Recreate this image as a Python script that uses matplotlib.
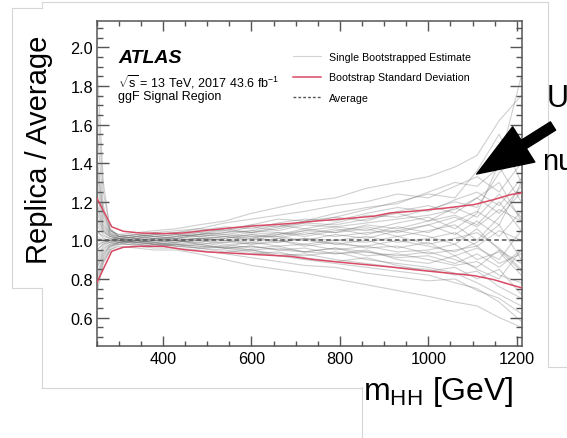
import matplotlib
matplotlib.use("Agg")
import matplotlib.pyplot as plt
from matplotlib.lines import Line2D
from matplotlib.ticker import MultipleLocator

plt.rcParams["font.family"] = ["Liberation Sans", "DejaVu Sans"]
plt.rcParams["mathtext.fontset"] = "custom"
plt.rcParams["mathtext.rm"] = "Liberation Sans"
plt.rcParams["mathtext.it"] = "Liberation Sans:italic"
plt.rcParams["mathtext.bf"] = "Liberation Sans:bold"

# ── data ─────────────────────────────────────────────────────────────
m_hh = [250, 265, 280, 300, 340, 380, 430, 480, 540, 600,
        660, 720, 790, 860, 930, 1000, 1060, 1110, 1160, 1210]

replicas = [
    [1.45, 1.15, 1.05, 1.03, 1.04, 1.05, 1.06, 1.08, 1.10, 1.14, 1.17, 1.20, 1.22, 1.27, 1.30, 1.33, 1.38, 1.44, 1.62, 1.75],
    [0.78, 0.90, 0.95, 0.97, 0.96, 0.95, 0.95, 0.93, 0.90, 0.87, 0.85, 0.83, 0.80, 0.77, 0.74, 0.71, 0.68, 0.66, 0.60, 0.55],
    [1.10, 1.04, 1.02, 1.01, 1.00, 1.01, 1.02, 1.03, 1.06, 1.08, 1.07, 1.10, 1.12, 1.10, 1.15, 1.18, 1.14, 1.22, 1.30, 1.10],
    [0.92, 0.97, 0.99, 1.00, 0.99, 0.98, 0.99, 1.00, 0.98, 0.96, 0.97, 0.94, 0.93, 0.95, 0.90, 0.88, 0.92, 0.85, 0.80, 0.95],
    [1.25, 1.08, 1.04, 1.02, 1.03, 1.02, 1.01, 1.03, 1.04, 1.05, 1.08, 1.06, 1.09, 1.13, 1.12, 1.16, 1.20, 1.17, 1.35, 1.45],
    [0.85, 0.93, 0.97, 0.98, 0.98, 0.99, 0.98, 0.97, 0.96, 0.94, 0.92, 0.93, 0.90, 0.88, 0.86, 0.85, 0.82, 0.84, 0.76, 0.70],
    [1.95, 1.30, 1.06, 1.02, 1.01, 1.00, 1.00, 1.01, 1.02, 1.00, 1.03, 1.05, 1.04, 1.06, 1.02, 1.05, 1.08, 1.00, 1.12, 1.25],
    [0.72, 0.88, 0.95, 0.98, 1.00, 1.01, 1.00, 0.99, 1.01, 1.03, 1.02, 1.00, 1.03, 1.01, 1.05, 1.02, 0.98, 1.06, 0.95, 0.88],
    [1.05, 1.02, 1.01, 1.00, 1.02, 1.04, 1.05, 1.06, 1.09, 1.11, 1.13, 1.15, 1.18, 1.20, 1.24, 1.22, 1.28, 1.33, 1.25, 1.40],
    [0.98, 0.99, 1.00, 0.99, 0.97, 0.96, 0.96, 0.95, 0.93, 0.91, 0.89, 0.87, 0.86, 0.83, 0.81, 0.79, 0.80, 0.74, 0.70, 0.62],
    [1.35, 1.12, 1.04, 1.01, 0.99, 0.98, 0.99, 1.01, 1.00, 0.98, 0.99, 1.01, 0.98, 0.97, 1.00, 0.97, 0.94, 0.99, 1.08, 0.90],
    [0.80, 0.91, 0.96, 0.99, 1.01, 1.03, 1.04, 1.05, 1.07, 1.06, 1.09, 1.11, 1.10, 1.14, 1.17, 1.15, 1.21, 1.25, 1.18, 1.32],
    [1.15, 1.05, 1.02, 1.01, 1.00, 0.99, 0.97, 0.96, 0.95, 0.93, 0.94, 0.91, 0.89, 0.91, 0.87, 0.84, 0.86, 0.80, 0.85, 0.72],
    [0.95, 0.98, 1.00, 1.02, 1.03, 1.02, 1.03, 1.02, 1.04, 1.07, 1.05, 1.08, 1.07, 1.05, 1.09, 1.12, 1.06, 1.14, 1.40, 1.85],
    [1.02, 1.00, 0.99, 0.98, 0.98, 0.97, 0.98, 0.99, 0.97, 0.95, 0.96, 0.94, 0.96, 0.92, 0.93, 0.90, 0.87, 0.89, 0.82, 0.78],
    [1.60, 1.18, 1.05, 1.03, 1.02, 1.03, 1.04, 1.06, 1.05, 1.08, 1.11, 1.10, 1.14, 1.17, 1.19, 1.25, 1.30, 1.28, 1.38, 1.20],
    [0.75, 0.89, 0.94, 0.96, 0.97, 0.98, 0.97, 0.96, 0.94, 0.95, 0.92, 0.90, 0.88, 0.86, 0.84, 0.82, 0.78, 0.75, 0.68, 0.58],
    [1.08, 1.03, 1.01, 1.00, 1.01, 1.00, 1.01, 1.00, 1.02, 1.01, 1.04, 1.02, 1.05, 1.07, 1.04, 1.08, 1.03, 1.10, 1.02, 1.15],
    [0.90, 0.96, 0.98, 0.99, 0.99, 1.00, 1.02, 1.03, 1.02, 1.04, 1.03, 1.06, 1.04, 1.08, 1.06, 1.10, 1.13, 1.08, 1.20, 1.05],
    [1.20, 1.07, 1.03, 1.01, 1.00, 0.98, 0.97, 0.98, 0.96, 0.97, 0.95, 0.96, 0.93, 0.94, 0.91, 0.92, 0.88, 0.93, 0.86, 0.95],
    [1.00, 1.00, 1.00, 1.01, 1.02, 1.03, 1.02, 1.04, 1.03, 1.05, 1.04, 1.03, 1.06, 1.03, 1.07, 1.04, 1.10, 1.15, 1.08, 1.30],
    [0.88, 0.95, 0.98, 1.00, 0.98, 0.97, 0.98, 0.96, 0.97, 0.99, 0.97, 0.98, 0.95, 0.97, 0.94, 0.95, 0.98, 0.90, 0.94, 0.82],
    [1.40, 1.14, 1.05, 1.02, 1.03, 1.04, 1.03, 1.04, 1.06, 1.04, 1.06, 1.09, 1.08, 1.11, 1.14, 1.10, 1.17, 1.12, 1.24, 1.12],
    [0.82, 0.92, 0.97, 0.99, 1.00, 0.99, 1.00, 0.98, 0.99, 0.98, 1.00, 0.97, 0.99, 0.96, 0.97, 0.93, 0.95, 0.97, 0.88, 0.93],
    [1.12, 1.05, 1.02, 1.00, 0.99, 1.00, 0.99, 1.00, 0.99, 1.01, 1.00, 0.98, 1.00, 1.02, 0.99, 1.01, 1.04, 0.97, 1.05, 1.00],
    [0.95, 0.98, 0.99, 1.01, 1.02, 1.01, 1.01, 1.03, 1.05, 1.04, 1.07, 1.09, 1.12, 1.16, 1.20, 1.24, 1.22, 1.36, 1.55, 1.30],
    [1.05, 1.01, 1.00, 0.99, 0.99, 1.00, 1.00, 0.98, 0.96, 0.95, 0.93, 0.92, 0.94, 0.90, 0.88, 0.86, 0.83, 0.78, 0.72, 0.66],
    [1.75, 1.25, 1.06, 1.02, 1.01, 1.02, 1.01, 1.02, 1.01, 1.03, 1.01, 1.04, 1.02, 1.04, 1.05, 1.08, 1.12, 1.07, 1.16, 1.10],
    [0.86, 0.94, 0.97, 0.99, 1.00, 1.01, 1.00, 1.01, 1.00, 0.99, 1.01, 1.00, 0.98, 1.00, 0.96, 0.99, 0.92, 0.96, 0.90, 1.05],
    [1.18, 1.06, 1.03, 1.02, 1.01, 1.02, 1.03, 1.02, 1.03, 1.02, 1.02, 1.05, 1.07, 1.09, 1.11, 1.13, 1.16, 1.22, 1.14, 1.28],
    [0.97, 0.99, 1.00, 1.00, 1.00, 0.99, 1.00, 1.01, 1.00, 1.02, 0.99, 1.01, 1.00, 0.99, 1.02, 0.98, 1.01, 1.04, 0.96, 0.85],
    [1.30, 1.10, 1.03, 1.00, 0.99, 0.98, 0.98, 0.97, 0.96, 0.97, 0.95, 0.94, 0.96, 0.94, 0.92, 0.94, 0.90, 0.86, 0.95, 0.84],
]

# bootstrap standard deviation band (upper / lower edges)
std_mass = [250, 284, 310, 348, 401, 446, 499, 552, 612, 688, 741, 816, 877,
            914, 967, 1042, 1103, 1148, 1186, 1212]
std_upper = [1.22, 1.070, 1.047, 1.038, 1.035, 1.038, 1.052, 1.064, 1.076, 1.087,
             1.099, 1.113, 1.125, 1.142, 1.151, 1.168, 1.185, 1.211, 1.237, 1.246]
std_lower = [0.779, 0.943, 0.964, 0.969, 0.969, 0.952, 0.940, 0.934, 0.926, 0.917,
             0.900, 0.883, 0.870, 0.862, 0.848, 0.831, 0.817, 0.796, 0.770, 0.753]

x_range = [250, 1211]
average = [1.0, 1.0]

legend_labels = ["Single Bootstrapped Estimate", "Bootstrap Standard Deviation", "Average"]

RED = "#d94a64"
GREY = "#6e6e6e"
FRAME = "#555555"

fig = plt.figure(figsize=(5.67, 4.39), dpi=100)
ax = fig.add_axes([96.7 / 567, 1 - 346.7 / 439, 425 / 567, 325 / 439])

for rep in replicas:
    ax.plot(m_hh, rep, color=GREY, alpha=0.33, linewidth=0.8, zorder=2)

ax.plot(x_range, average, color="#555555", linestyle=(0, (3, 2)), linewidth=1.1, zorder=3)
ax.plot(std_mass, std_upper, color=RED, linewidth=1.1, zorder=4)
ax.plot(std_mass, std_lower, color=RED, linewidth=1.1, zorder=4)

ax.set_xlim(250, 1211)
ax.set_ylim(0.454, 2.138)

# ── ROOT-ish frame and ticks ─────────────────────────────────────────
ax.xaxis.set_major_locator(MultipleLocator(200))
ax.xaxis.set_minor_locator(MultipleLocator(50))
ax.yaxis.set_major_locator(MultipleLocator(0.2))
ax.yaxis.set_minor_locator(MultipleLocator(0.05))
ax.tick_params(which="both", direction="in", top=True, right=True, color=FRAME, width=1.0)
ax.tick_params(axis="x", which="major", length=7.2, pad=3.6, labelsize=11.7)
ax.tick_params(axis="x", which="minor", length=3.6)
ax.tick_params(axis="y", which="major", length=8.4, pad=2.5, labelsize=11.7)
ax.tick_params(axis="y", which="minor", length=4.0)
ax.xaxis.set_major_formatter(lambda v, p: f"{v:.0f}")
ax.yaxis.set_major_formatter(lambda v, p: f"{v:.1f}")
for spine in ax.spines.values():
    spine.set_color(FRAME)
    spine.set_linewidth(1.1)

# ── labels on the plot ───────────────────────────────────────────────
ax.text(0.050, 0.888, "ATLAS", transform=ax.transAxes, fontsize=14,
        fontweight="bold", fontstyle="italic", va="center")
ax.text(0.050, 0.8145, r"$\sqrt{\mathrm{s}}$ = 13 TeV, 2017 43.6 fb$^{-1}$",
        transform=ax.transAxes, fontsize=9, va="center")
ax.text(0.050, 0.769, "ggF Signal Region", transform=ax.transAxes,
        fontsize=9, va="center")

handles = [
    Line2D([], [], color=GREY, alpha=0.3, linewidth=0.8),
    Line2D([], [], color=RED, linewidth=1.1),
    Line2D([], [], color="#555555", linestyle=(0, (2, 1.5)), linewidth=1.0),
]
ax.legend(handles, legend_labels, loc="upper left", bbox_to_anchor=(0.462, 0.905),
          frameon=False, fontsize=7.7, handlelength=2.6, handletextpad=0.8,
          labelspacing=1.0, borderpad=0.0, borderaxespad=0.0)

# ── slide-level text around the chart ────────────────────────────────
fig.text(39 / 567, 1 - 150 / 439, "Replica / Average", rotation=90,
         fontsize=21, ha="center", va="center")
fig.text(362.7 / 567, 1 - 400 / 439, r"m$_{\mathregular{HH}}$ [GeV]",
         fontsize=23, ha="left", va="baseline")
fig.text(546.7 / 567, 1 - 106.7 / 439, "Us", fontsize=22, ha="left", va="baseline")
fig.text(541.7 / 567, 1 - 170 / 439, "nu", fontsize=21, ha="left", va="baseline")

ax.annotate("", xy=(476.7, 439 - 175), xycoords="figure pixels",
            xytext=(553, 439 - 127), textcoords="figure pixels",
            arrowprops=dict(arrowstyle="simple,head_length=2.0,head_width=1.5,tail_width=0.35",
                            mutation_scale=20, color="black", shrinkA=0, shrinkB=0),
            annotation_clip=False, zorder=10)

# faint borders of the pasted slide images
edge = "#d6d6d6"
slide_lines = [
    ([11.7, 11.7], [9.3, 289.3]),
    ([11.7, 41.7], [9.3, 9.3]),
    ([41.7, 41.7], [2.7, 9.3]),
    ([41.7, 547.7], [2.7, 2.7]),
    ([11.7, 41.7], [289.3, 289.3]),
    ([41.7, 41.7], [289.3, 389.3]),
    ([41.7, 361.7], [389.3, 389.3]),
    ([361.7, 361.7], [388, 439]),
    ([547.7, 547.7], [2.7, 368.3]),
    ([547.7, 567], [368.3, 368.3]),
]
for xs, ys in slide_lines:
    fig.add_artist(Line2D([x / 567 for x in xs], [1 - y / 439 for y in ys],
                          color=edge, linewidth=0.8, zorder=0))

fig.savefig("out.png", dpi=100)
